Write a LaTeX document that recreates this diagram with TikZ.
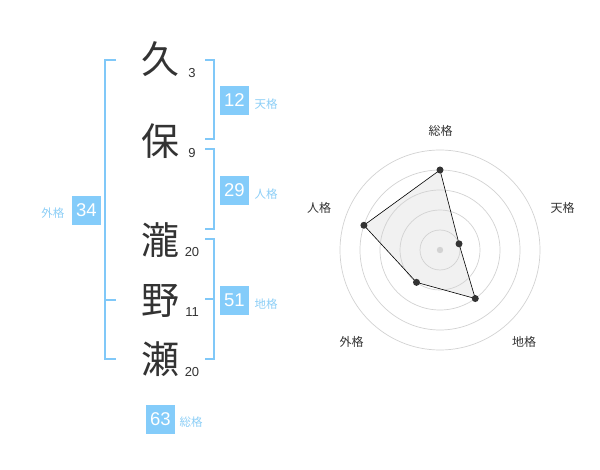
\documentclass[tikz,border=0pt]{standalone}
\usepackage{fontspec}
\setmainfont{Noto Sans CJK JP}
\newfontfamily\numfont{Liberation Sans}
\definecolor{boxblue}{RGB}{132,204,250}
\definecolor{lineblue}{RGB}{128,200,248}
\definecolor{lblblue}{RGB}{140,206,246}
\definecolor{darktxt}{RGB}{51,51,51}
\definecolor{ringgray}{RGB}{210,210,210}
\definecolor{fillgray}{RGB}{238,238,238}
\begin{document}
\begin{tikzpicture}[x=1pt,y=-1pt,
  kanji/.style={anchor=base,inner sep=0pt,font=\fontsize{38}{38}\selectfont,text=darktxt},
  strokes/.style={anchor=base,inner sep=0pt,font=\numfont\fontsize{13}{13}\selectfont,text=darktxt},
  valbox/.style={fill=boxblue,minimum size=29pt,inner sep=0pt,text=white,font=\numfont\fontsize{18.5}{18.5}\selectfont},
  lbl/.style={inner sep=0pt,text=lblblue,font=\fontsize{11.5}{11.5}\selectfont},
  brk/.style={draw=lineblue,line width=2pt},
  ring/.style={draw=ringgray,line width=0.7pt},
  axlbl/.style={inner sep=0pt,text=darktxt,font=\fontsize{12}{12}\selectfont},
  dot/.style={circle,fill=darktxt,inner sep=0pt,minimum size=7pt}]
\useasboundingbox (0,0) rectangle (600,470);
% characters
\node[kanji] (k1) at (160,73.5) {久};
\node[kanji] (k2) at (160,155.5) {保};
\node[kanji] (k3) at (160,254.5) {瀧};
\node[kanji] (k4) at (160,314.5) {野};
\node[kanji] (k5) at (160,373.5) {瀬};
\node[strokes] (n1) at (192,77.5) {3};
\node[strokes] (n2) at (192,157.5) {9};
\node[strokes] (n3) at (192,257) {20};
\node[strokes] (n4) at (192,317) {11};
\node[strokes] (n5) at (192,377) {20};
% brackets
\coordinate (lt) at (116,60);
\coordinate (lm) at (116,300);
\coordinate (lb) at (116,359.5);
\draw[brk] (lt) -- (105,60) -- (105,359.5) -- (lb);
\draw[brk] (105,300) -- (lm);
\coordinate (r1a) at (205,60);
\coordinate (r1b) at (205,139.5);
\draw[brk] (r1a) -- (214.3,60) -- (214.3,139.5) -- (r1b);
\coordinate (r2a) at (205,149.5);
\coordinate (r2b) at (205,229.5);
\draw[brk] (r2a) -- (214.3,149.5) -- (214.3,229.5) -- (r2b);
\coordinate (r3a) at (205,239.5);
\coordinate (r3m) at (205,299.5);
\coordinate (r3b) at (205,359.5);
\draw[brk] (r3a) -- (214.3,239.5) -- (214.3,359.5) -- (r3b);
\draw[brk] (r3m) -- (214.3,299.5);
% value boxes
\node[valbox] (ten) at (234.5,100.5) {12};
\node[lbl] (tenl) at (266,104) {天格};
\node[valbox] (jin) at (234.5,190.5) {29};
\node[lbl] (jinl) at (266,194) {人格};
\node[valbox] (chi) at (234.5,300.5) {51};
\node[lbl] (chil) at (266,304) {地格};
\node[valbox] (gai) at (86.3,210.5) {34};
\node[lbl] (gail) at (53,213.5) {外格};
\node[valbox] (sou) at (160.5,419) {63};
\node[lbl] (soul) at (191,422) {総格};
% radar chart
\begin{scope}[shift={(440,250)},yscale=-1]
  \coordinate (c) at (0,0);
  \coordinate (pS) at (90:80);
  \coordinate (pT) at (18:20);
  \coordinate (pC) at (-54:60);
  \coordinate (pG) at (-126:40);
  \coordinate (pJ) at (162:80);
  \fill[fillgray,fill opacity=0.85] (pS) -- (pT) -- (pC) -- (pG) -- (pJ) -- cycle;
  \foreach \r in {20,40,60,80,100} \draw[ring] (c) circle[radius=\r];
  \draw[black,line width=0.6pt] (pS) -- (pT) -- (pC) -- (pG) -- (pJ) -- cycle;
  \fill[ringgray] (c) circle[radius=3.2];
  \foreach \p in {pS,pT,pC,pG,pJ} \node[dot] at (\p) {};
\end{scope}
\node[axlbl] (aS) at (440.7,130.7) {総格};
\node[axlbl] (aT) at (562.5,208.3) {天格};
\node[axlbl] (aC) at (524,341.7) {地格};
\node[axlbl] (aG) at (351.7,341.7) {外格};
\node[axlbl] (aJ) at (319,208.3) {人格};
\end{tikzpicture}
\end{document}
